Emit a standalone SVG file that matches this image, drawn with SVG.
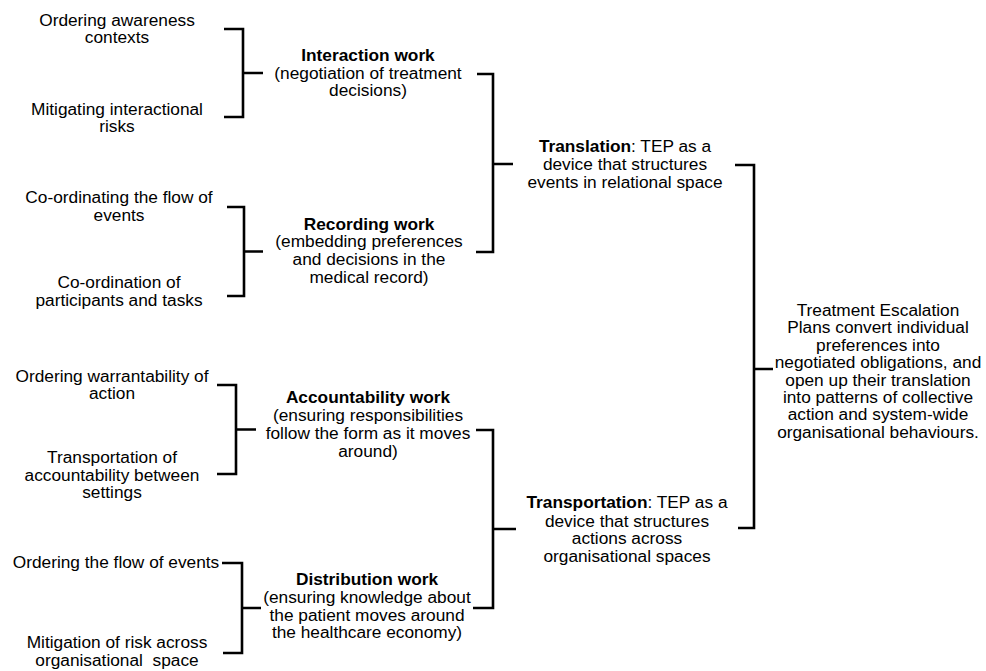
<svg xmlns="http://www.w3.org/2000/svg" width="986" height="671" viewBox="0 0 986 671">
<style>
text{font-family:"Liberation Sans",Arial,sans-serif;font-size:17.3px;fill:#000;text-anchor:middle;white-space:pre}
.b{font-weight:bold}
.c path{fill:none;stroke:#000;stroke-width:2.6;stroke-linecap:butt;stroke-linejoin:miter}
</style>
<rect width="986" height="671" fill="#fff"/>
<g id="ordering-awareness"><text x="117" y="26">Ordering awareness</text><text x="117" y="43">contexts</text></g>
<g id="mitigating-interactional"><text x="117" y="115">Mitigating interactional</text><text x="117" y="132">risks</text></g>
<g id="coordinating-flow"><text x="119" y="203">Co-ordinating the flow of</text><text x="119" y="221">events</text></g>
<g id="coordination-participants"><text x="119" y="288">Co-ordination of</text><text x="119" y="306">participants and tasks</text></g>
<g id="ordering-warrantability"><text x="112" y="382">Ordering warrantability of</text><text x="112" y="399">action</text></g>
<g id="transportation-accountability"><text x="112" y="463">Transportation of</text><text x="112" y="481">accountability between</text><text x="112" y="498">settings</text></g>
<g id="ordering-flow-events"><text x="116" y="568">Ordering the flow of events</text></g>
<g id="mitigation-risk"><text x="117" y="648">Mitigation of risk across</text><text x="117" y="666">organisational  space</text></g>

<g id="interaction-work"><text class="b" x="368" y="61">Interaction work</text><text x="368" y="78.5">(negotiation of treatment</text><text x="368" y="96">decisions)</text></g>
<g id="recording-work"><text class="b" x="369" y="230">Recording work</text><text x="369" y="247">(embedding preferences</text><text x="369" y="265">and decisions in the</text><text x="369" y="282.5">medical record)</text></g>
<g id="accountability-work"><text class="b" x="368" y="403">Accountability work</text><text x="368" y="421">(ensuring responsibilities</text><text x="368" y="439">follow the form as it moves</text><text x="368" y="456.5">around)</text></g>
<g id="distribution-work"><text class="b" x="367" y="585">Distribution work</text><text x="367" y="603">(ensuring knowledge about</text><text x="367" y="621">the patient moves around</text><text x="367" y="638">the healthcare economy)</text></g>

<g id="translation"><text x="625" y="152"><tspan class="b">Translation</tspan>: TEP as a</text><text x="625" y="170">device that structures</text><text x="625" y="188">events in relational space</text></g>
<g id="transportation"><text x="627" y="508"><tspan class="b">Transportation</tspan>: TEP as a</text><text x="627" y="526.5">device that structures</text><text x="627" y="544">actions across</text><text x="627" y="562">organisational spaces</text></g>

<g id="tep-summary"><text x="878" y="316">Treatment Escalation</text><text x="878" y="333.4">Plans convert individual</text><text x="878" y="350.8">preferences into</text><text x="878" y="368.2">negotiated obligations, and</text><text x="878" y="385.6">open up their translation</text><text x="878" y="403">into patterns of collective</text><text x="878" y="420.4">action and system-wide</text><text x="878" y="437.8">organisational behaviours.</text></g>

<g id="connectors" class="c">
<path d="M224,29 H243 V117 H224 M243,73 H263"/>
<path d="M227,207 H244 V296 H227 M244,251.5 H263"/>
<path d="M217,385 H236 V474 H217 M236,429.5 H256"/>
<path d="M222,563 H242 V653 H223 M242,608 H261"/>
<path d="M477,74 H493 V252 H476 M493,164 H513"/>
<path d="M476,430 H493 V608 H473 M493,529 H516"/>
<path d="M735,165 H754 V528 H738 M754,369 H773"/>
</g>
</svg>
